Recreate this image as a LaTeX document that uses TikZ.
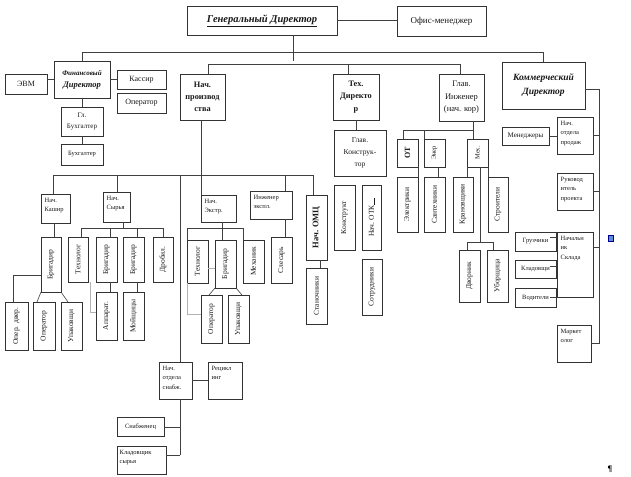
\documentclass[tikz,border=0pt]{standalone}
\usepackage{fontspec}
\setmainfont{Liberation Serif}
\usetikzlibrary{calc}
\definecolor{anchorblue}{HTML}{5B8ED8}
\tikzset{
  box/.style={draw=black!80, line width=0.6pt, inner sep=0pt, outer sep=0pt},
  txt/.style={inner sep=0pt, align=center, font=\fontsize{7}{9.5}\selectfont, text=black!90},
  ln/.style={draw=black!75, line width=0.6pt},
  greyln/.style={draw=black!30, line width=0.5pt},
  rot/.style={rotate=90, font=\fontsize{7.5}{8}\selectfont},
  small/.style={font=\fontsize{6.5}{9.5}\selectfont},
  mid/.style={font=\fontsize{8}{12.3}\selectfont},
  midb/.style={font=\fontsize{8.3}{12.3}\selectfont\bfseries},
}
% centred text
\newcommand\bx[7][]{\node[box,minimum width={(#5-#3)*1pt},minimum height={(#6-#4)*1pt},anchor=north west] (#2) at (#3,#4) {};
  \node[txt,#1] at (#2.center) {#7};}
% text at top left
\newcommand\bxl[7][]{\node[box,minimum width={(#5-#3)*1pt},minimum height={(#6-#4)*1pt},anchor=north west] (#2) at (#3,#4) {};
  \node[txt,small,align=left,anchor=north west,#1] at ([xshift=3.5pt,yshift=-4pt]#2.north west) {#7};}
% rotated text
\newcommand\bxr[7][]{\node[box,minimum width={(#5-#3)*1pt},minimum height={(#6-#4)*1pt},anchor=north west] (#2) at (#3,#4) {};
  \node[txt,rot,#1] at (#2.center) {#7};}
\begin{document}
\begin{tikzpicture}[x=1pt,y=-1pt]
\fill[white] (0,0) rectangle (631,476);
\useasboundingbox (0,0) rectangle (631,476);

% ---------- top level ----------
\bx[font=\fontsize{10.5}{12}\selectfont\bfseries\itshape]{gd}{187}{6}{337}{35}{\underline{Генеральный Директор}}
\bx[font=\fontsize{9}{11}\selectfont]{om}{397}{6}{486}{36}{Офис-менеджер}
\bx[font=\bfseries\itshape]{fin}{54}{61}{110}{98}{{\fontsize{7}{12}\selectfont Финансовый}\\{\fontsize{8.5}{12}\selectfont Директор}}
\bx[mid]{evm}{5}{74}{47}{94}{ЭВМ}
\bx[mid]{kas}{117}{70}{166}{89}{Кассир}
\bx[mid]{oper1}{117}{93}{166}{113}{Оператор}
\bx[font=\fontsize{7}{10.5}\selectfont]{glb}{61}{107}{103}{136}{Гл.\\Бухгалтер}
\bx[small]{buh}{61}{144}{103}{165}{Бухгалтер}
\bx[midb]{np}{180}{74}{225}{120}{Нач.\\производ\\ства}
\bx[midb]{tex}{333}{74}{379}{120}{Тех.\\Директо\\р}
\bx[font=\fontsize{8.5}{12.5}\selectfont]{gi}{439}{74}{484}{121}{Глав.\\Инженер\\(нач. кор)}
\bx[font=\fontsize{9.5}{14}\selectfont\bfseries\itshape]{kom}{502}{62}{585}{109}{Коммерческий\\Директор}

% ---------- technical ----------
\bx[font=\fontsize{7.5}{11.7}\selectfont]{gk}{334}{130}{386}{176}{Глав.\\Конструк-\\тор}
\bxr{kons}{334}{185}{355}{250}{Конструкт}
\bxr{otk}{362}{185}{381}{250}{Нач. ОТК\rule{7pt}{0.4pt}}
\bxr{sotr}{362}{259}{382}{315}{Сотрудники}

% ---------- chief engineer ----------
\bxr[font=\fontsize{8}{9}\selectfont\bfseries]{ot}{397}{139}{418}{167}{ОТ}
\bxr[font=\fontsize{6.5}{7}\selectfont]{ener}{424}{139}{445}{167}{Энер}
\bxr[font=\fontsize{6.5}{7}\selectfont]{mex}{467}{139}{488}{167}{Мех.}
\bxr{el}{397}{177}{418}{232}{Электрики}
\bxr{sant}{424}{177}{445}{232}{Сантехники}
\bxr{kran}{453}{177}{473}{232}{Крановщики}
\bxr{stroi}{488}{177}{508}{232}{Строители}
\bxr{dvor}{459}{250}{480}{302}{Дворник}
\bxr{ubor}{487}{250}{508}{302}{Уборщица}

% ---------- commercial ----------
\bx{men}{502}{127}{549}{145}{Менеджеры}
\bxl{nop}{557}{117}{593}{154}{Нач.\\отдела\\продаж}
\bxl{ruk}{557}{173}{593}{210}{Руковод\\итель\\проекта}
\bxl{nsk}{557}{232}{593}{297}{Начальн\\ик\\Склада}
\bx[small]{gruz}{515}{232}{556}{251}{Грузчики}
\bx[small]{klad}{515}{260}{556}{278}{Кладовщи}
\bx[small]{vod}{515}{288}{556}{307}{Водители}
\bxl{mark}{557}{325}{591}{362}{Маркет\\олог}

% ---------- production, left ----------
\bxl{nk}{41}{194}{70}{223}{Нач.\\Кашир}
\bxl{ns}{103}{192}{130}{222}{Нач.\\Сырья}
\bxr{brig1}{41}{237}{61}{292}{Бригадир}
\bxr{operdv}{5}{302}{28}{350}{Опер. двер.}
\bxr{oper2}{33}{302}{55}{350}{Оператор}
\bxr{upak1}{61}{302}{82}{350}{Упаковщи}
\bxr{tehn1}{68}{237}{88}{282}{Технолог}
\bxr{brig2}{96}{237}{117}{282}{Бригадир}
\bxr{brig3}{123}{237}{144}{282}{Бригадир}
\bxr{drob}{153}{237}{173}{282}{Дробил.}
\bxr{app}{96}{292}{117}{340}{Аппарат.}
\bxr{moy}{123}{292}{144}{340}{Мойщицы}

% ---------- production, middle ----------
\bxl{ne}{201}{195}{236}{222}{Нач.\\Экстр.}
\bxr{tehn2}{187}{240}{208}{283}{Технолог}
\bxr{brig4}{215}{240}{236}{288}{Бригадир}
\bxr{mehn}{243}{240}{264}{283}{Механик}
\bxr{oper3}{201}{295}{222}{343}{Оператор}
\bxr{upak2}{228}{295}{249}{343}{Упаковщи}
\bxl{ie}{250}{191}{292}{219}{Инженер\\экспл.}
\bxr{sles}{271}{237}{292}{283}{Слесарь}
\bxr[font=\fontsize{8.5}{9}\selectfont\bfseries]{omc}{306}{195}{327}{260}{Нач. ОМЦ}
\bxr{stan}{306}{268}{327}{324}{Станочники}
\bxl{nos}{159}{362}{192}{399}{Нач.\\отдела\\снабж.}
\bxl{rec}{208}{362}{242}{399}{Рецикл\\инг}
\bx[small]{snab}{117}{417}{164}{436}{Снабженец}
\bxl[xshift=-1pt]{kls}{117}{446}{166}{474}{Кладовщик\\сырья}

% ---------- connectors: top ----------
\coordinate (gdj) at (293,61);
\coordinate (b1l) at (82,52);  \coordinate (b1r) at (543,52);
\coordinate (b2l) at (208,64); \coordinate (b2m) at (348,64); \coordinate (b2r) at (460,64);
\draw[ln] (gd.east) -- (gd.east -| om.west);
\draw[ln] (gd.south -| gdj) -- (gdj);
\draw[ln] (b1l) -- (b1r);
\draw[ln] (b1l) -- (fin.north);
\draw[ln] (b1r) -- (kom.north -| b1r);
\draw[ln] (b2l) -- (b2r);
\draw[ln] (b2l) -- (np.north -| b2l);
\draw[ln] (b2m) -- (tex.north -| b2m);
\draw[ln] (b2r) -- (gi.north -| b2r);
\draw[ln] (fin.west) -- (fin.west -| evm.east);
\draw[ln] (fin.east) -- (fin.east -| kas.west);
\draw[ln] (fin.south) -- (glb.north);
\draw[ln] (glb.south) -- (buh.north);
\draw[ln] (tex.south) -- (tex.south |- gk.north);

% ---------- connectors: production ----------
\coordinate (b3l) at (53,175); \coordinate (b3r) at (313,175);
\draw[ln] (np.south -| ne.north west) -- (ne.north west);
\draw[ln] (b3l) -- (b3r);
\draw[ln] (b3l) -- (nk.north -| b3l);
\draw[ln] (117,175) -- (ns.north -| 117,0);
\draw[ln] (180,175) -- (nos.north -| 180,0);
\draw[ln] (285,175) -- (ie.north -| 285,0);
\draw[ln] (b3r) -- (omc.north -| b3r);
% left
\draw[ln] (nk.south -| 54,0) -- (brig1.north -| 54,0);
\draw[ln] (brig1.west |- 0,275) -- (13,275) -- (operdv.north -| 13,0);
\draw[ln] (brig1.south west) -- (oper2.north -| 37,0);
\draw[ln] (brig1.south east) -- (upak1.north -| 68,0);
\draw[ln] (ns.south -| 123,0) -- (123,228);
\draw[ln] (81,228) -- (163,228);
\draw[ln] (81,228) -- (tehn1.north -| 81,0);
\draw[ln] (110,228) -- (brig2.north -| 110,0);
\draw[ln] (137,228) -- (brig3.north -| 137,0);
\draw[ln] (163,228) -- (drob.north -| 163,0);
\draw[ln] (brig2.south -| 110,0) -- (app.north -| 110,0);
\draw[ln] (brig3.south -| 137,0) -- (moy.north -| 137,0);
\draw[greyln] (tehn1.south -| 90,0) -- (90,312) -- (app.west |- 0,312);
% middle
\draw[ln] (ne.south -| 222,0) -- (222,228);
\draw[ln] (187,228) -- (243,228);
\draw[ln] (187,228) -- (tehn2.north west);
\draw[ln] (222,228) -- (brig4.north -| 222,0);
\draw[ln] (243,228) -- (mehn.north west);
\draw[greyln] (tehn2.east |- 0,268) -- (brig4.west |- 0,268);
\draw[greyln] (tehn2.south west) -- (187,314) -- (oper3.west |- 0,314);
\draw[ln] (brig4.south west) -- (oper3.north -| 209,0);
\draw[ln] (brig4.south east) -- (upak2.north -| 242,0);
\draw[ln] (ie.south -| 285,0) -- (sles.north -| 285,0);
\draw[ln] (omc.south -| 320,0) -- (stan.north -| 320,0);
\draw[ln] (nos.east) -- (nos.east -| rec.west);
\draw[ln] (nos.south -| 180,0) -- (180,455);
\draw[ln] (180,427) -- (snab.east |- 0,427);
\draw[ln] (180,455) -- (kls.east |- 0,455);

% ---------- connectors: chief engineer ----------
\draw[ln] (gi.south -| 473,0) -- (473,130);
\draw[ln] (403,130) -- (473,130);
\draw[ln] (403,130) -- (ot.north -| 403,0);
\draw[ln] (424,130) -- (ener.north west);
\draw[ln] (473,130) -- (mex.north -| 473,0);
\draw[ln] (ot.south east) -- (el.north east);
\draw[ln] (ener.south -| 438,0) -- (sant.north -| 438,0);
\draw[ln] (mex.south west) -- (kran.north -| mex.south west);
\draw[ln] (mex.south east) -- (stroi.north west);
\draw[ln] (mex.south -| 480,0) -- (480,242);
\draw[ln] (467,242) -- (493,242);
\draw[ln] (467,242) -- (dvor.north -| 467,0);
\draw[ln] (493,242) -- (ubor.north -| 493,0);

% ---------- connectors: commercial ----------
\draw[ln] (kom.east |- 0,89) -- (599,89);
\draw[ln] (599,89) -- (599,344);
\draw[ln] (nop.east) -- (nop.east -| 599,0);
\draw[ln] (ruk.east) -- (ruk.east -| 599,0);
\draw[ln] (nsk.east |- 0,247) -- (599,247);
\draw[ln] (mark.east) -- (mark.east -| 599,0);
\draw[ln] (men.east) -- (men.east -| nop.west);
\draw[ln] (550,237) -- (nsk.west |- 0,237);
\draw[ln] (550,266) -- (nsk.west |- 0,266);
\draw[ln] (550,297) -- (nsk.west |- 0,297);

% ---------- marks ----------
\node[draw=blue!55!black, fill=anchorblue, minimum size=5.5pt, inner sep=0pt, line width=0.4pt] (anch) at (610.5,238) {};
\node[inner sep=0pt, font=\fontsize{8.5}{9}\selectfont\bfseries] (pil) at (610,469) {¶};
\end{tikzpicture}
\end{document}
